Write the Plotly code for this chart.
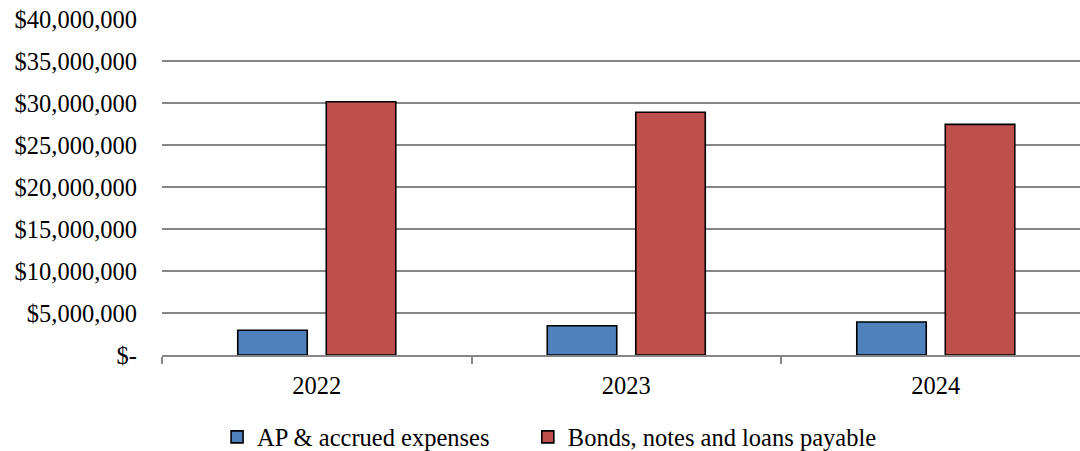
import plotly.graph_objects as go

years = ["2022", "2023", "2024"]
ap_accrued = [2950000, 3480000, 3930000]
bonds_notes_loans = [30150000, 28900000, 27450000]
y_ticks = [0, 5000000, 10000000, 15000000, 20000000, 25000000, 30000000, 35000000, 40000000]
y_tick_labels = ["$-", "$5,000,000", "$10,000,000", "$15,000,000", "$20,000,000",
                 "$25,000,000", "$30,000,000", "$35,000,000", "$40,000,000"]

FONT = "Liberation Serif, Times New Roman, serif"
FS = 24.5

fig = go.Figure()
fig.add_trace(go.Bar(name="AP & accrued expenses", x=years, y=ap_accrued, legend="legend",
                     marker=dict(color="#4F81BD", line=dict(color="black", width=1.6))))
fig.add_trace(go.Bar(name="Bonds, notes and loans payable", x=years, y=bonds_notes_loans,
                     legend="legend2",
                     marker=dict(color="#C0504D", line=dict(color="black", width=1.6))))

leg_common = dict(orientation="h", xref="paper", xanchor="left",
                  yref="paper", y=-0.244, yanchor="middle",
                  font=dict(family=FONT, size=FS, color="black"),
                  itemwidth=30, bgcolor="rgba(0,0,0,0)")

fig.update_layout(
    width=1080, height=451,
    margin=dict(l=162, r=0, t=19, b=96, autoexpand=False),
    paper_bgcolor="white", plot_bgcolor="white",
    font=dict(family=FONT, size=FS, color="black"),
    barmode="group", bargap=0.428, bargroupgap=0.215,
    showlegend=True,
    legend=dict(x=0.060, **leg_common),
    legend2=dict(x=0.3985, **leg_common),
)
fig.update_xaxes(type="category", range=[-0.5, 2.466], automargin=False,
                 showline=True, linecolor="#868686", linewidth=1.5,
                 ticks="outside", tickson="boundaries", ticklen=7,
                 tickcolor="#868686", tickwidth=1.5,
                 showgrid=False, ticklabelstandoff=8,
                 tickfont=dict(family=FONT, size=FS, color="black"))
fig.update_yaxes(range=[0, 40000000], tickvals=y_ticks, ticktext=y_tick_labels,
                 automargin=False,
                 showgrid=True, gridcolor="#868686", gridwidth=1.5,
                 zeroline=False, showline=False, ticks="",
                 ticklabelstandoff=24,
                 tickfont=dict(family=FONT, size=FS, color="black"))

fig.write_html("out.html")
